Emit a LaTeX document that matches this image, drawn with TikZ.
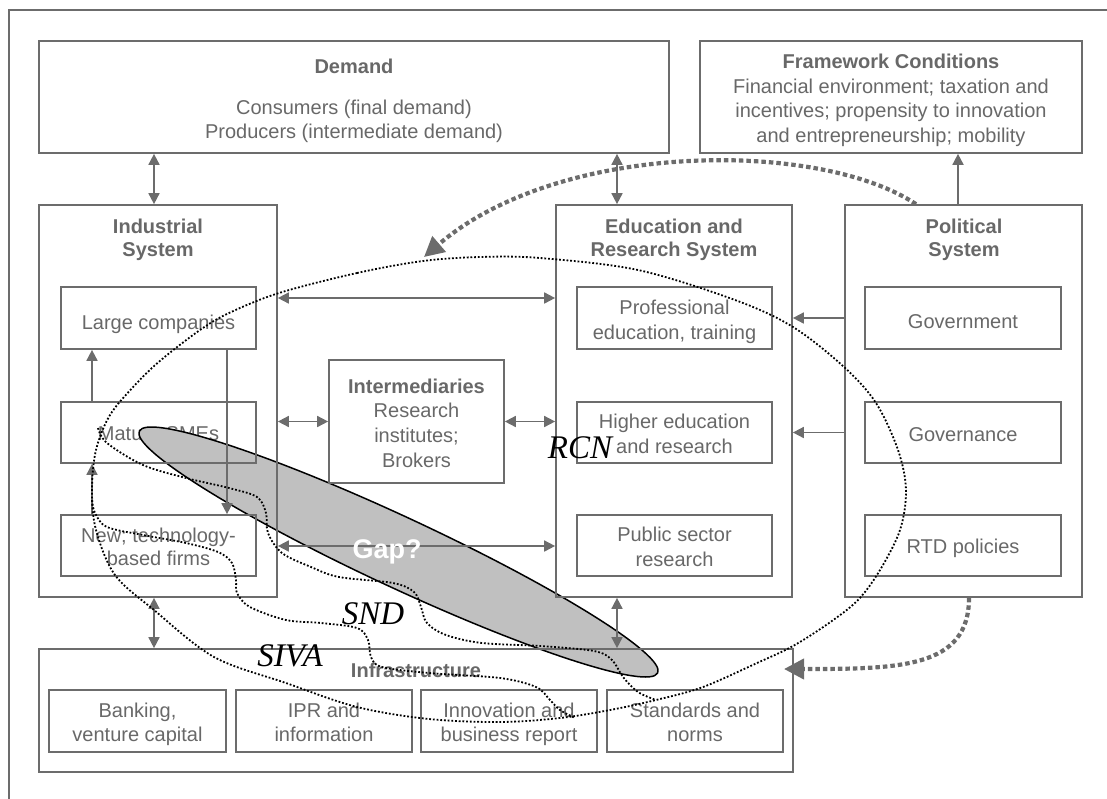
\documentclass[tikz,border=0pt]{standalone}
\usepackage{fontspec}
\setmainfont{Liberation Sans}
\newfontfamily\lserif{Liberation Serif}
\usetikzlibrary{arrows.meta,calc,shapes.geometric}
\definecolor{lc}{RGB}{108,108,108}
\definecolor{tc}{RGB}{104,104,104}
\definecolor{gapfill}{RGB}{192,192,192}
\tikzset{
  box/.style={draw=lc, line width=1.7pt, rectangle, inner sep=0pt},
  txt/.style={text=tc, font=\fontsize{20}{24}\selectfont, anchor=base, inner sep=0pt},
  ttl/.style={text=tc, font=\fontsize{20}{24}\selectfont\bfseries, anchor=base, inner sep=0pt},
  arr/.style={lc, line width=1.7pt, -{Triangle[length=11pt,width=11pt]}},
  darr/.style={lc, line width=1.7pt, {Triangle[length=11pt,width=11pt]}-{Triangle[length=11pt,width=11pt]}},
  thickdash/.style={lc, line width=4.2pt, dash pattern=on 4.5pt off 3pt, -{Triangle[length=20pt,width=20pt]}},
  dots/.style={black, line width=1.8pt, dash pattern=on 1.8pt off 1.9pt},
  lbl/.style={font=\lserif\itshape\fontsize{33}{33}\selectfont, text=black, inner sep=0pt, anchor=base},
}
\begin{document}
\begin{tikzpicture}[x=1pt,y=-1pt]
\useasboundingbox (0,0) rectangle (1107,798);
% outer frame
\draw[lc, line width=1.8pt] (9,830) -- (9,10) -- (1130,10);

% ---------- texts ----------
\node[ttl] (tDem) at (354,73) {Demand};
\node[txt] (tDem1) at (354,114) {Consumers (final demand)};
\node[txt] (tDem2) at (354,138) {Producers (intermediate demand)};
\node[ttl] (tFw) at (891,68) {Framework Conditions};
\node[txt] (tFw1) at (891,93) {Financial environment; taxation and};
\node[txt] (tFw2) at (891,117) {incentives; propensity to innovation};
\node[txt] (tFw3) at (891,142) {and entrepreneurship; mobility};
\node[ttl] (tInd1) at (158,233) {Industrial};
\node[ttl] (tInd2) at (158,256) {System};
\node[ttl] (tEdu1) at (674,233) {Education and};
\node[ttl] (tEdu2) at (674,256) {Research System};
\node[ttl] (tPol1) at (964,233) {Political};
\node[ttl] (tPol2) at (964,256) {System};
\node[txt] (tLarge) at (158.5,329) {Large companies};
\node[txt] (tMat) at (158.5,440) {Mature SMEs};
\node[txt] (tNew1) at (158.5,542) {New; technology-};
\node[txt] (tNew2) at (158.5,565) {based firms};
\node[ttl] (tInt0) at (416.5,393) {Intermediaries};
\node[txt] (tInt1) at (416.5,417) {Research};
\node[txt] (tInt2) at (416.5,442) {institutes;};
\node[txt] (tInt3) at (416.5,467) {Brokers};
\node[txt] (tPro1) at (674.5,314) {Professional};
\node[txt] (tPro2) at (674.5,339) {education, training};
\node[txt] (tHi1) at (674.5,428) {Higher education};
\node[txt] (tHi2) at (674.5,453) {and research};
\node[txt] (tPu1) at (674.5,541) {Public sector};
\node[txt] (tPu2) at (674.5,566) {research};
\node[txt] (tGov) at (963,328) {Government};
\node[txt] (tGvn) at (963,441) {Governance};
\node[txt] (tRtd) at (963,553) {RTD policies};
\node[ttl] (tInf) at (416,677) {Infrastructure};
\node[txt] (tB1) at (137.5,717) {Banking,};
\node[txt] (tB2) at (137.5,741) {venture capital};
\node[txt] (tI1) at (324,717) {IPR and};
\node[txt] (tI2) at (324,741) {information};
\node[txt] (tN1) at (509,717) {Innovation and};
\node[txt] (tN2) at (509,741) {business report};
\node[txt] (tS1) at (695,717) {Standards and};
\node[txt] (tS2) at (695,741) {norms};

% ---------- gap ellipse ----------
\node[draw=black, line width=1.5pt, fill=gapfill, ellipse, minimum width=572pt, minimum height=70pt, inner sep=0pt, rotate=-25] (gap) at (398.5,552) {};

% ---------- boxes ----------
\node[box, minimum width=630pt, minimum height=112pt] (demand) at (354,97) {};
\node[box, minimum width=382pt, minimum height=112pt] (frame) at (891,97) {};
\node[box, minimum width=238pt, minimum height=392pt] (ind) at (158,401) {};
\node[box, minimum width=236pt, minimum height=392pt] (edu) at (674,401) {};
\node[box, minimum width=237pt, minimum height=392pt] (pol) at (963.5,401) {};
\node[box, minimum width=195pt, minimum height=62pt] (large) at (158.5,318) {};
\node[box, minimum width=195pt, minimum height=61pt] (mature) at (158.5,432.5) {};
\node[box, minimum width=195pt, minimum height=61pt] (newf) at (158.5,545.5) {};
\node[box, minimum width=175pt, minimum height=123pt] (inter) at (416.5,421.5) {};
\node[box, minimum width=195pt, minimum height=62pt] (prof) at (674.5,318) {};
\node[box, minimum width=195pt, minimum height=61pt] (higher) at (674.5,432.5) {};
\node[box, minimum width=195pt, minimum height=61pt] (public) at (674.5,545.5) {};
\node[box, minimum width=196pt, minimum height=62pt] (gov) at (963,318) {};
\node[box, minimum width=196pt, minimum height=61pt] (gvn) at (963,432.5) {};
\node[box, minimum width=196pt, minimum height=61pt] (rtd) at (963,545.5) {};
\node[box, minimum width=754pt, minimum height=123pt] (infra) at (416,710.5) {};
\node[box, minimum width=177pt, minimum height=62pt] (bank) at (137.5,721) {};
\node[box, minimum width=176pt, minimum height=62pt] (ipr) at (324,721) {};
\node[box, minimum width=176pt, minimum height=62pt] (innov) at (509,721) {};
\node[box, minimum width=176pt, minimum height=62pt] (stand) at (695,721) {};

% ---------- helper coordinates ----------
\coordinate (cA) at (154,0);
\coordinate (cB) at (617,0);
\coordinate (cC) at (958,0);
\coordinate (cD) at (0,298);
\coordinate (cE) at (0,546);
\coordinate (cF) at (92,0);
\coordinate (cG) at (227,0);
\coordinate (cH) at (916,0);
\coordinate (cI) at (969,0);
\coordinate (tipA) at (424,257);
\coordinate (tipB) at (784,669);

% ---------- arrows ----------
\draw[darr] (demand.south -| cA) -- (ind.north -| cA);
\draw[darr] (demand.south -| cB) -- (edu.north -| cB);
\draw[arr] (pol.north -| cC) -- (frame.south -| cC);
\draw[darr] (ind.east |- cD) -- (edu.west |- cD);
\draw[darr] (ind.east |- inter.west) -- (inter.west);
\draw[darr] (inter.east) -- (edu.west |- inter.east);
\draw[darr] (ind.east |- cE) -- (edu.west |- cE);
\draw[arr] (pol.west |- gov.west) -- (edu.east |- gov.west);
\draw[arr] (pol.west |- gvn.west) -- (edu.east |- gvn.west);
\draw[arr] (mature.north -| cF) -- (large.south -| cF);
\draw[arr] (large.south -| cG) -- (newf.north -| cG);
\draw[arr] (newf.north -| cF) -- (mature.south -| cF);
\draw[darr] (ind.south -| cA) -- (infra.north -| cA);
\draw[darr] (edu.south -| cB) -- (infra.north -| cB);

% ---------- thick dashed arrows ----------
\draw[thickdash] (pol.north -| cH) .. controls (820,140) and (560,140) .. (tipA);
\draw[thickdash] (pol.south -| cI) .. controls (969,668) and (900,669) .. (tipB);

% ---------- dotted loops ----------
\draw[dots] plot[smooth cycle, tension=0.55] coordinates {(279,293) (357,273) (423,261) (480,257) (540,258) (638,270) (735,300) (793,327) (844,367) (876,403) (898,450) (906,490) (900,530) (880,570) (858,600) (829,623) (793,646) (757,663) (703,687) (656,700) (610,710) (560,718) (500,722) (429,719) (357,707) (286,683) (214,657) (154,610) (115,575) (96,530) (92,490) (96,450) (110,415) (135,385) (161,360) (200,330) (229,313)};
\draw[dots] plot[smooth, tension=0.55] coordinates {(98,428) (107,443) (143,465) (186,478) (229,488) (257,497) (266,513) (268,533) (282,553) (311,567) (339,577) (393,583) (414,592) (421,607) (427,623) (446,635) (482,643) (540,646) (594,651) (612,660) (623,677) (638,692) (656,700)};
\draw[dots] plot[smooth, tension=0.55] coordinates {(92,500) (95,513) (107,527) (143,535) (186,543) (218,552) (232,563) (236,580) (237,593) (250,607) (286,620) (321,623) (357,628) (368,640) (371,657) (382,667) (429,673) (500,678) (536,687) (550,700) (560,710) (575,718)};

% ---------- labels ----------
\node[font=\bfseries\fontsize{27}{27}\selectfont, text=white, anchor=base, inner sep=0pt] (gaplbl) at (387,558) {Gap?};
\node[lbl] (rcn) at (580,458) {RCN};
\node[lbl] (snd) at (373,624) {SND};
\node[lbl] (siva) at (290,666) {SIVA};
\end{tikzpicture}
\end{document}
